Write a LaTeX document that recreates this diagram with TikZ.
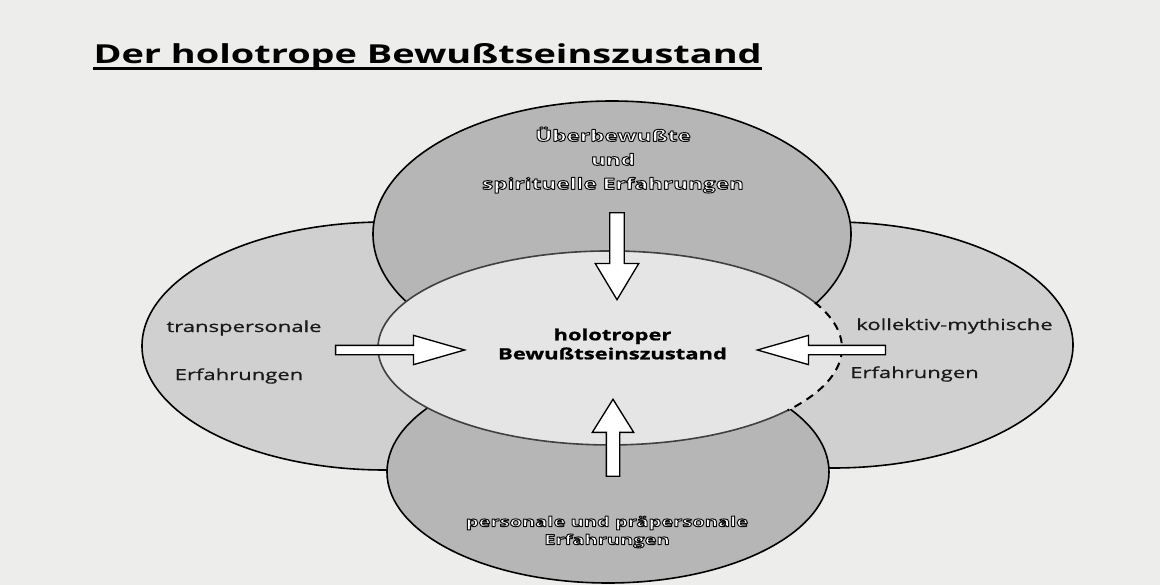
\documentclass[tikz,border=0pt]{standalone}
\usepackage{fontspec}
\setmainfont{Open Sans}
\newfontfamily\widefont[FakeStretch=1.45]{Open Sans}
\newfontfamily\labelfont[FakeStretch=1.45, FakeBold=0.8]{Open Sans}
\newfontfamily\corefont[FakeStretch=1.42, FakeBold=1.2]{Open Sans}
\usetikzlibrary{shapes.arrows}

\definecolor{paper}{RGB}{237,237,236}
\definecolor{sidefill}{RGB}{208,208,208}
\definecolor{polefill}{RGB}{182,182,182}
\definecolor{corefill}{RGB}{229,229,229}

% white letters with a dark rim
\newcommand{\haloon}{\special{pdf:literal direct 0.05 G 0.75 w 1 j 2 Tr}}
\newcommand{\halooff}{\special{pdf:literal direct 0 Tr}}

\tikzset{every picture/.style={line width=0.75pt}}
\tikzset{
  inarrow/.style={single arrow, draw=black, fill=white, line width=1pt, inner sep=0pt, single arrow head indent=0pt},
  sidelabel/.style={anchor=base, inner sep=0.75pt, text=black!90, font=\labelfont\fontsize{11.4}{13}\selectfont},
  halolabel/.style={inner sep=0.75pt, align=center, text=white}
}

\begin{document}
\begin{tikzpicture}[x=0.75pt,y=0.75pt,yscale=-1,xscale=1]
\useasboundingbox (0,0) rectangle (1160,585);

%Shape: Rectangle [id:dp3318470215596402] 
\fill [paper] (0,0) -- (1160,0) -- (1160,585) -- (0,585) -- cycle ;

%Shape: Ellipse [id:dp7720394153870318] 
\draw  [fill=sidefill ,line width=1.2] (142,346) .. controls (142,277.5) and (250.8,222) .. (385,222) .. controls (519.2,222) and (628,277.5) .. (628,346) .. controls (628,414.5) and (519.2,470) .. (385,470) .. controls (250.8,470) and (142,414.5) .. (142,346) -- cycle ;
%Shape: Ellipse [id:dp4182665290136711] 
\draw  [fill=sidefill ,line width=1.2] (593,345) .. controls (593,277.1) and (700.4,222) .. (833,222) .. controls (965.6,222) and (1073,277.1) .. (1073,345) .. controls (1073,412.9) and (965.6,468) .. (833,468) .. controls (700.4,468) and (593,412.9) .. (593,345) -- cycle ;
%Shape: Ellipse [id:dp9051436627718245] 
\draw  [fill=polefill ,line width=1.2] (373,234) .. controls (373,160.5) and (480,101) .. (612,101) .. controls (744,101) and (851,160.5) .. (851,234) .. controls (851,307.5) and (744,367) .. (612,367) .. controls (480,367) and (373,307.5) .. (373,234) -- cycle ;
%Shape: Ellipse [id:dp2689930417526601] 
\draw  [fill=polefill ,line width=1.2] (387,472) .. controls (387,410.7) and (485.9,361) .. (608,361) .. controls (730.1,361) and (829,410.7) .. (829,472) .. controls (829,533.3) and (730.1,583) .. (608,583) .. controls (485.9,583) and (387,533.3) .. (387,472) -- cycle ;
%Shape: Ellipse [id:dp6643910287155229] 
\fill  [corefill] (378,348) .. controls (378,294.4) and (481.9,251) .. (610,251) .. controls (738.1,251) and (842,294.4) .. (842,348) .. controls (842,401.6) and (738.1,445) .. (610,445) .. controls (481.9,445) and (378,401.6) .. (378,348) -- cycle ;
%Shape: Arc [id:dp1175903846625510] 
\draw  [draw=black!75 ,line width=1.2] (787.7,410.3) arc [start angle=40, end angle=332, x radius=232, y radius=97] ;
%Shape: Arc [id:dp5830267741093254] 
\draw  [dash pattern={on 6pt off 4.5pt} ,line width=1.5] (814.8,302.5) arc [start angle=-28, end angle=40, x radius=232, y radius=97] ;

%Shape: Right Arrow [id:dp0934761852204417] 
\node [inarrow, inner xsep=4.9pt, minimum height=65.25pt, minimum width=31.5pt, single arrow head extend=10.9pt, single arrow tip angle=62, shape border rotate=270, anchor=tip] (arrowTop) at (617,301) {};
%Shape: Right Arrow [id:dp8427105938215566] 
\node [inarrow, inner xsep=4.5pt, minimum height=57.75pt, minimum width=30pt, single arrow head extend=10.5pt, single arrow tip angle=64, shape border rotate=90, anchor=tip] (arrowBottom) at (613,398) {};
%Shape: Right Arrow [id:dp3196480752209113] 
\node [inarrow, inner ysep=3pt, minimum height=96.75pt, minimum width=21pt, single arrow head extend=7.5pt, single arrow tip angle=32, shape border rotate=0, anchor=tip] (arrowLeft) at (467,350) {};
%Shape: Right Arrow [id:dp7456128930174452] 
\node [inarrow, inner ysep=3pt, minimum height=96pt, minimum width=21pt, single arrow head extend=7.5pt, single arrow tip angle=32, shape border rotate=180, anchor=tip] (arrowRight) at (755,350) {};

% Text Node
\node [anchor=base west][inner sep=0pt] [font=\widefont\bfseries\fontsize{19.6}{24}\selectfont] (title) at (93,63.5) {Der holotrope Bewußtseinszustand};
\coordinate (ulLine) at (0,68.5);
\draw [line width=2.25pt] (title.base west |- ulLine) -- (title.base east |- ulLine);
% Text Node
\node [halolabel] [font=\widefont\bfseries\fontsize{11.7}{18}\selectfont] (topLabel) at (613,160) {\haloon Überbewußte\\und\\spirituelle Erfahrungen\halooff};
% Text Node
\node [halolabel] [font=\widefont\bfseries\fontsize{10.4}{13.5}\selectfont] (bottomLabel) at (607,532) {\haloon personale und präpersonale\\Erfahrungen\halooff};
% Text Node
\node [sidelabel] (transLabel) at (244,332) {transpersonale};
% Text Node
\node [sidelabel] (transErf) at (239,380) {Erfahrungen};
% Text Node
\node [sidelabel] (mythLabel) at (954.5,330) {kollektiv-mythische};
% Text Node
\node [sidelabel] (mythErf) at (914.5,378) {Erfahrungen};
% Text Node
\node [inner sep=0.75pt] [align=center] [font=\corefont\bfseries\fontsize{11.6}{14.25}\selectfont] (coreLabel) at (612.5,344) {holotroper\\Bewußtseinszustand};

\end{tikzpicture}
\end{document}
